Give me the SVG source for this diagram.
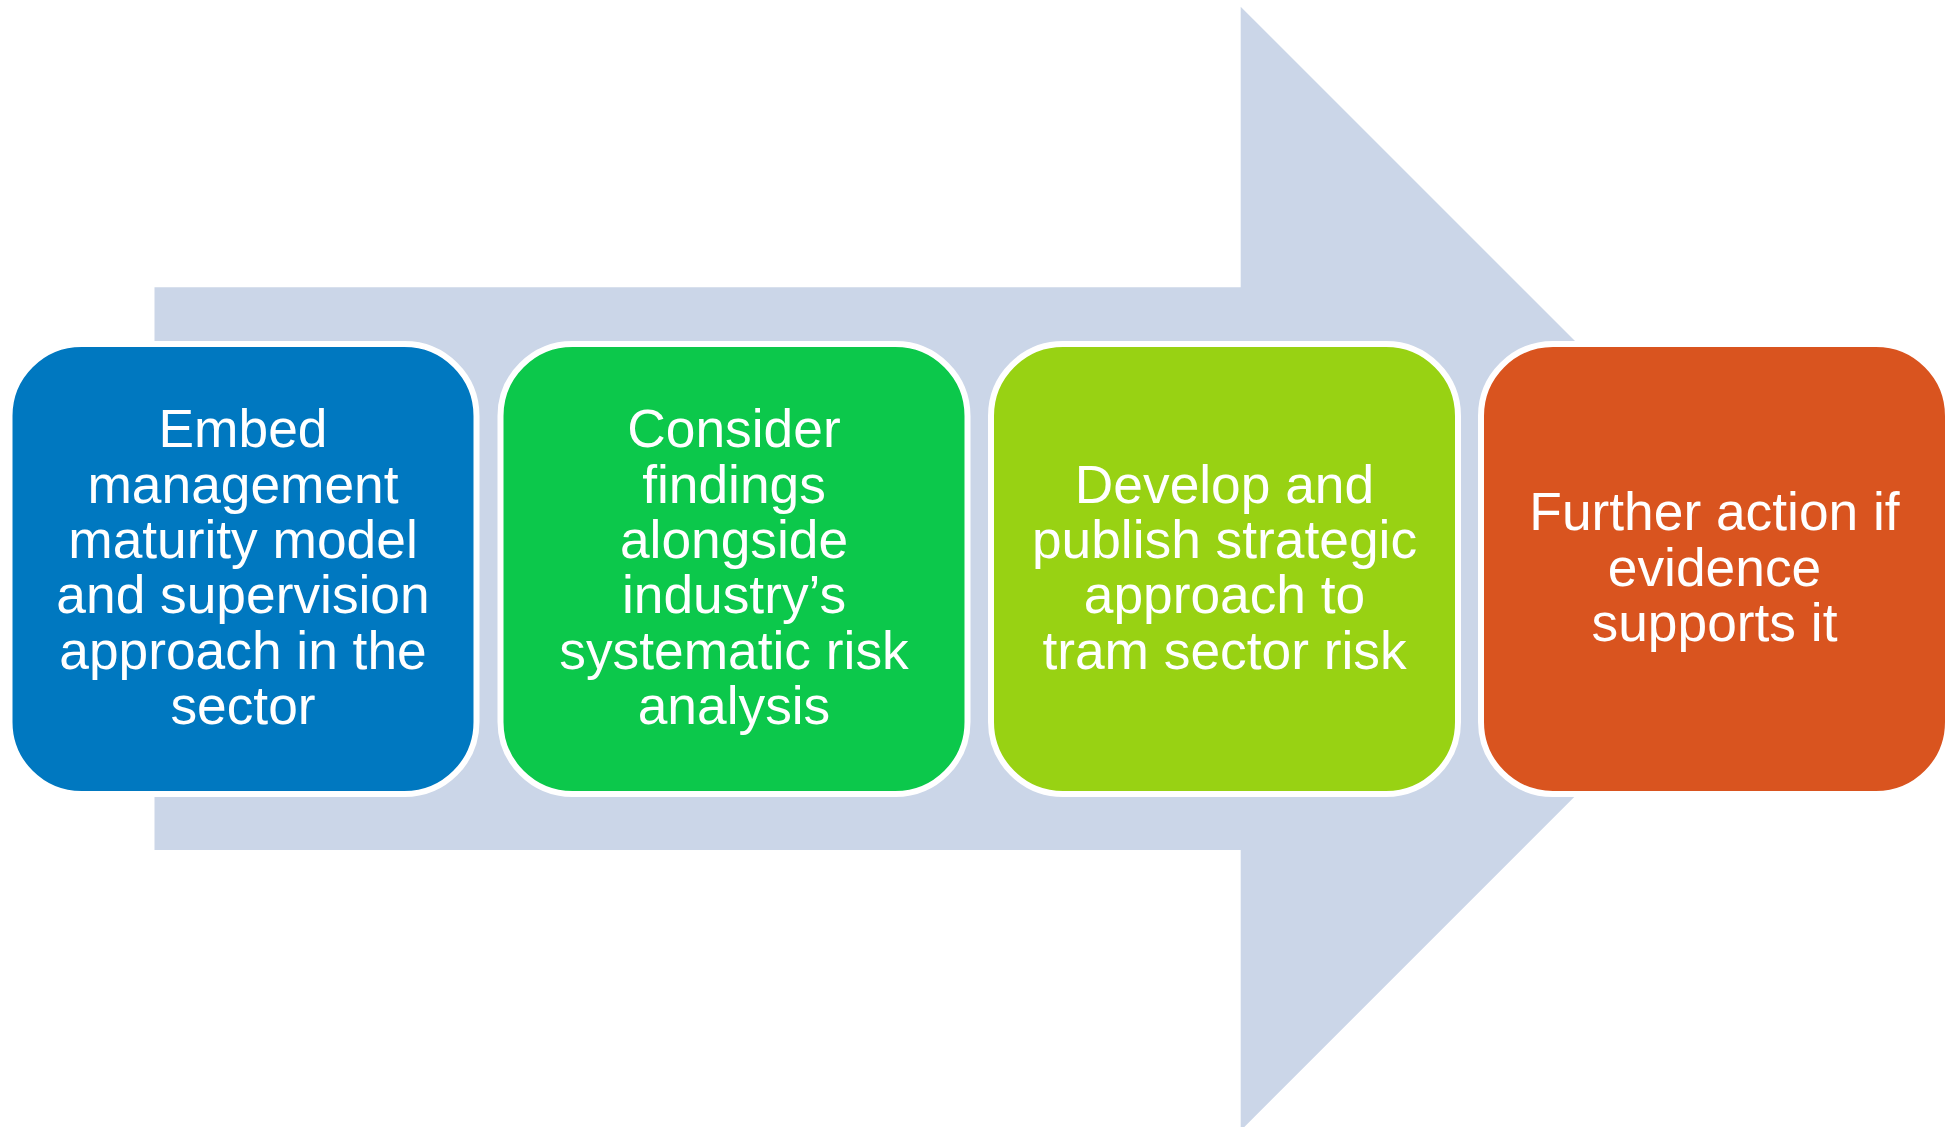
<svg xmlns="http://www.w3.org/2000/svg" width="1953" height="1127" viewBox="0 0 1953 1127">
  <style>
    .box { stroke: #FFFFFF; stroke-width: 6; }
    .lbl { font-family: "Liberation Sans", Arial, sans-serif; font-size: 53.3px; fill: #FFFFFF; text-anchor: middle; }
  </style>
  <rect x="0" y="0" width="1953" height="1127" fill="#FFFFFF"/>
  <g id="arrow">
    <polygon points="154.5,287.3 1240.7,287.3 1240.7,6.7 1802.6,568.6 1240.7,1130.6 1240.7,850 154.5,850" fill="#CBD6E8"/>
  </g>
  <g id="connectors"></g>
  <g id="node1">
    <rect class="box" x="9.5" y="344" width="467" height="450" rx="72" ry="72" fill="#0078C0"/>
    <text class="lbl" x="243" y="447.3">Embed</text>
    <text class="lbl" x="243" y="502.6">management</text>
    <text class="lbl" x="243" y="557.9">maturity model</text>
    <text class="lbl" x="243" y="613.2">and supervision</text>
    <text class="lbl" x="243" y="668.5">approach in the</text>
    <text class="lbl" x="243" y="723.8">sector</text>
  </g>
  <g id="node2">
    <rect class="box" x="500.5" y="344" width="467" height="450" rx="72" ry="72" fill="#0CC84B"/>
    <text class="lbl" x="734" y="447.3">Consider</text>
    <text class="lbl" x="734" y="502.6">findings</text>
    <text class="lbl" x="734" y="557.9">alongside</text>
    <text class="lbl" x="734" y="613.2">industry’s</text>
    <text class="lbl" x="734" y="668.5">systematic risk</text>
    <text class="lbl" x="734" y="723.8">analysis</text>
  </g>
  <g id="node3">
    <rect class="box" x="991" y="344" width="467" height="450" rx="72" ry="72" fill="#98D213"/>
    <text class="lbl" x="1224.5" y="502.6">Develop and</text>
    <text class="lbl" x="1224.5" y="557.9">publish strategic</text>
    <text class="lbl" x="1224.5" y="613.2">approach to</text>
    <text class="lbl" x="1224.5" y="668.5">tram sector risk</text>
  </g>
  <g id="node4">
    <rect class="box" x="1481" y="344" width="467" height="450" rx="72" ry="72" fill="#D9541F"/>
    <text class="lbl" x="1714.5" y="530.2">Further action if</text>
    <text class="lbl" x="1714.5" y="585.5">evidence</text>
    <text class="lbl" x="1714.5" y="640.8">supports it</text>
  </g>
</svg>
